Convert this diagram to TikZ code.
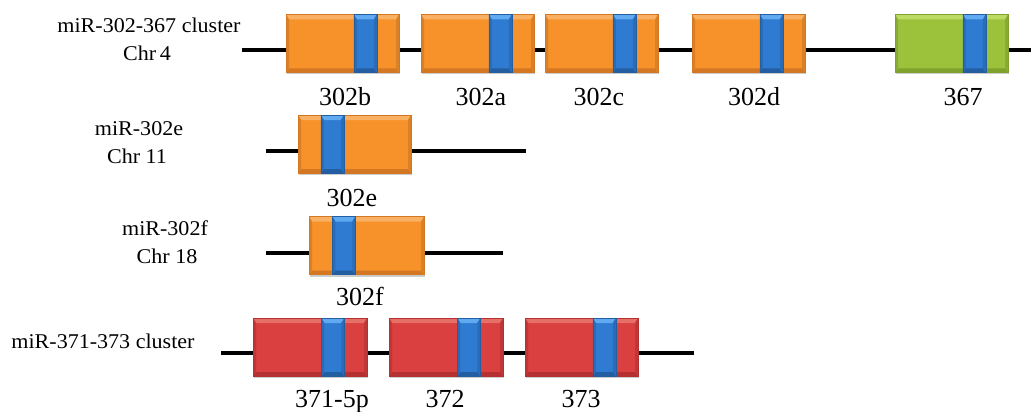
\documentclass[tikz,border=0pt]{standalone}
\usepackage{fontspec}
\setmainfont{Liberation Serif}
\usetikzlibrary{shadows}
\definecolor{orM}{HTML}{F7922B}
\definecolor{orL}{HTML}{FAB062}
\definecolor{orD}{HTML}{D47722}
\definecolor{blM}{HTML}{2F7BD1}
\definecolor{blL}{HTML}{5FAAF0}
\definecolor{blD}{HTML}{245EA2}
\definecolor{grM}{HTML}{9CC23C}
\definecolor{grL}{HTML}{BCDB62}
\definecolor{grD}{HTML}{7FA22D}
\definecolor{rdM}{HTML}{D9403F}
\definecolor{rdL}{HTML}{E66F67}
\definecolor{rdD}{HTML}{B53131}
\tikzset{
  bevel/.style n args={3}{fill=#1, draw=#3, line width=0.4pt,
    path picture={
      \fill[#2] (path picture bounding box.north west) -- (path picture bounding box.north east)
        -- ([xshift=-3pt,yshift=-5pt]path picture bounding box.north east)
        -- ([xshift=3pt,yshift=-5pt]path picture bounding box.north west) -- cycle;
      \fill[#3] (path picture bounding box.south west) -- (path picture bounding box.south east)
        -- ([xshift=-3pt,yshift=4pt]path picture bounding box.south east)
        -- ([xshift=3pt,yshift=4pt]path picture bounding box.south west) -- cycle;
      \fill[#1!88!black] (path picture bounding box.north west)
        -- ([xshift=3pt,yshift=-5pt]path picture bounding box.north west)
        -- ([xshift=3pt,yshift=4pt]path picture bounding box.south west)
        -- (path picture bounding box.south west) -- cycle;
      \fill[#1!88!black] (path picture bounding box.north east)
        -- ([xshift=-3pt,yshift=-5pt]path picture bounding box.north east)
        -- ([xshift=-3pt,yshift=4pt]path picture bounding box.south east)
        -- (path picture bounding box.south east) -- cycle;
    }},
  genebox/.style={rectangle, inner sep=0pt, minimum width=113pt, minimum height=58pt,
    general shadow={shadow xshift=1pt, shadow yshift=-2pt, fill=black, opacity=0.2}},
  orangebox/.style={genebox, bevel={orM}{orL}{orD}},
  greenbox/.style={genebox, bevel={grM}{grL}{grD}},
  redbox/.style={genebox, bevel={rdM}{rdL}{rdD}},
  band/.style={rectangle, inner sep=0pt, minimum width=23pt, minimum height=58pt, bevel={blM}{blL}{blD}},
  chrom/.style={line width=3.6pt, black},
  leftlab/.style={font=\fontsize{21}{25}\selectfont, xscale=1.05, anchor=base, inner sep=0pt},
  genelab/.style={font=\fontsize{26}{30}\selectfont, anchor=base, inner sep=0pt},
}
\begin{document}
\begin{tikzpicture}[x=1pt, y=-1pt]
\useasboundingbox (0,0) rectangle (1031,412);
% chromosome lines
\coordinate (s1) at (242,50);  \coordinate (e1) at (1031,50);
\coordinate (s2) at (266,151); \coordinate (e2) at (526,151);
\coordinate (s3) at (266,253); \coordinate (e3) at (503,253);
\coordinate (s4) at (221,353); \coordinate (e4) at (694,353);
\draw[chrom] (s1) -- (e1);
\draw[chrom] (s2) -- (e2);
\draw[chrom] (s3) -- (e3);
\draw[chrom] (s4) -- (e4);
% row 1
\node[orangebox] (b302b) at (342.5,43.5) {};
\node[orangebox] (b302a) at (477.5,43.5) {};
\node[orangebox] (b302c) at (601.5,43.5) {};
\node[orangebox] (b302d) at (748.5,43.5) {};
\node[greenbox]  (b367)  at (951.5,43.5) {};
\node[band] (m302b) at ([xshift=79.5pt]b302b.west) {};
\node[band] (m302a) at ([xshift=79.5pt]b302a.west) {};
\node[band] (m302c) at ([xshift=79.5pt]b302c.west) {};
\node[band] (m302d) at ([xshift=79.5pt]b302d.west) {};
\node[band] (m367)  at ([xshift=79.5pt]b367.west) {};
% row 2
\node[orangebox] (b302e) at (354.5,144) {};
\node[band] (m302e) at ([xshift=34.5pt]b302e.west) {};
% row 3
\node[orangebox, minimum width=115pt] (b302f) at (366.5,245.5) {};
\node[band] (m302f) at ([xshift=35pt]b302f.west) {};
% row 4
\node[redbox, minimum width=114pt] (b371) at (310,347) {};
\node[redbox, minimum width=114pt] (b372) at (446,347) {};
\node[redbox] (b373) at (581.5,347) {};
\node[band] (m371) at ([xshift=80pt]b371.west) {};
\node[band] (m372) at ([xshift=80pt]b372.west) {};
\node[band] (m373) at ([xshift=79.5pt]b373.west) {};
% left labels
\node[leftlab] (t1a) at (149,33) {miR-302-367 cluster};
\node[leftlab] (t1b) at (147,60) {Chr\,4};
\node[leftlab] (t2a) at (139,135) {miR-302e};
\node[leftlab] (t2b) at (137,163) {Chr 11};
\node[leftlab] (t3a) at (165,235) {miR-302f};
\node[leftlab] (t3b) at (167,263) {Chr 18};
\node[leftlab] (t4a) at (103,348) {miR-371-373 cluster};
% gene labels
\node[genelab] (l302b) at (345,105) {302b};
\node[genelab] (l302a) at (481,105) {302a};
\node[genelab] (l302c) at (599,105) {302c};
\node[genelab] (l302d) at (754,105) {302d};
\node[genelab] (l367)  at (963,105) {367};
\node[genelab] (l302e) at (352,206) {302e};
\node[genelab] (l302f) at (360,305) {302f};
\node[genelab] (l371)  at (332,407) {371-5p};
\node[genelab] (l372)  at (445,407) {372};
\node[genelab] (l373)  at (581,407) {373};
\end{tikzpicture}
\end{document}
